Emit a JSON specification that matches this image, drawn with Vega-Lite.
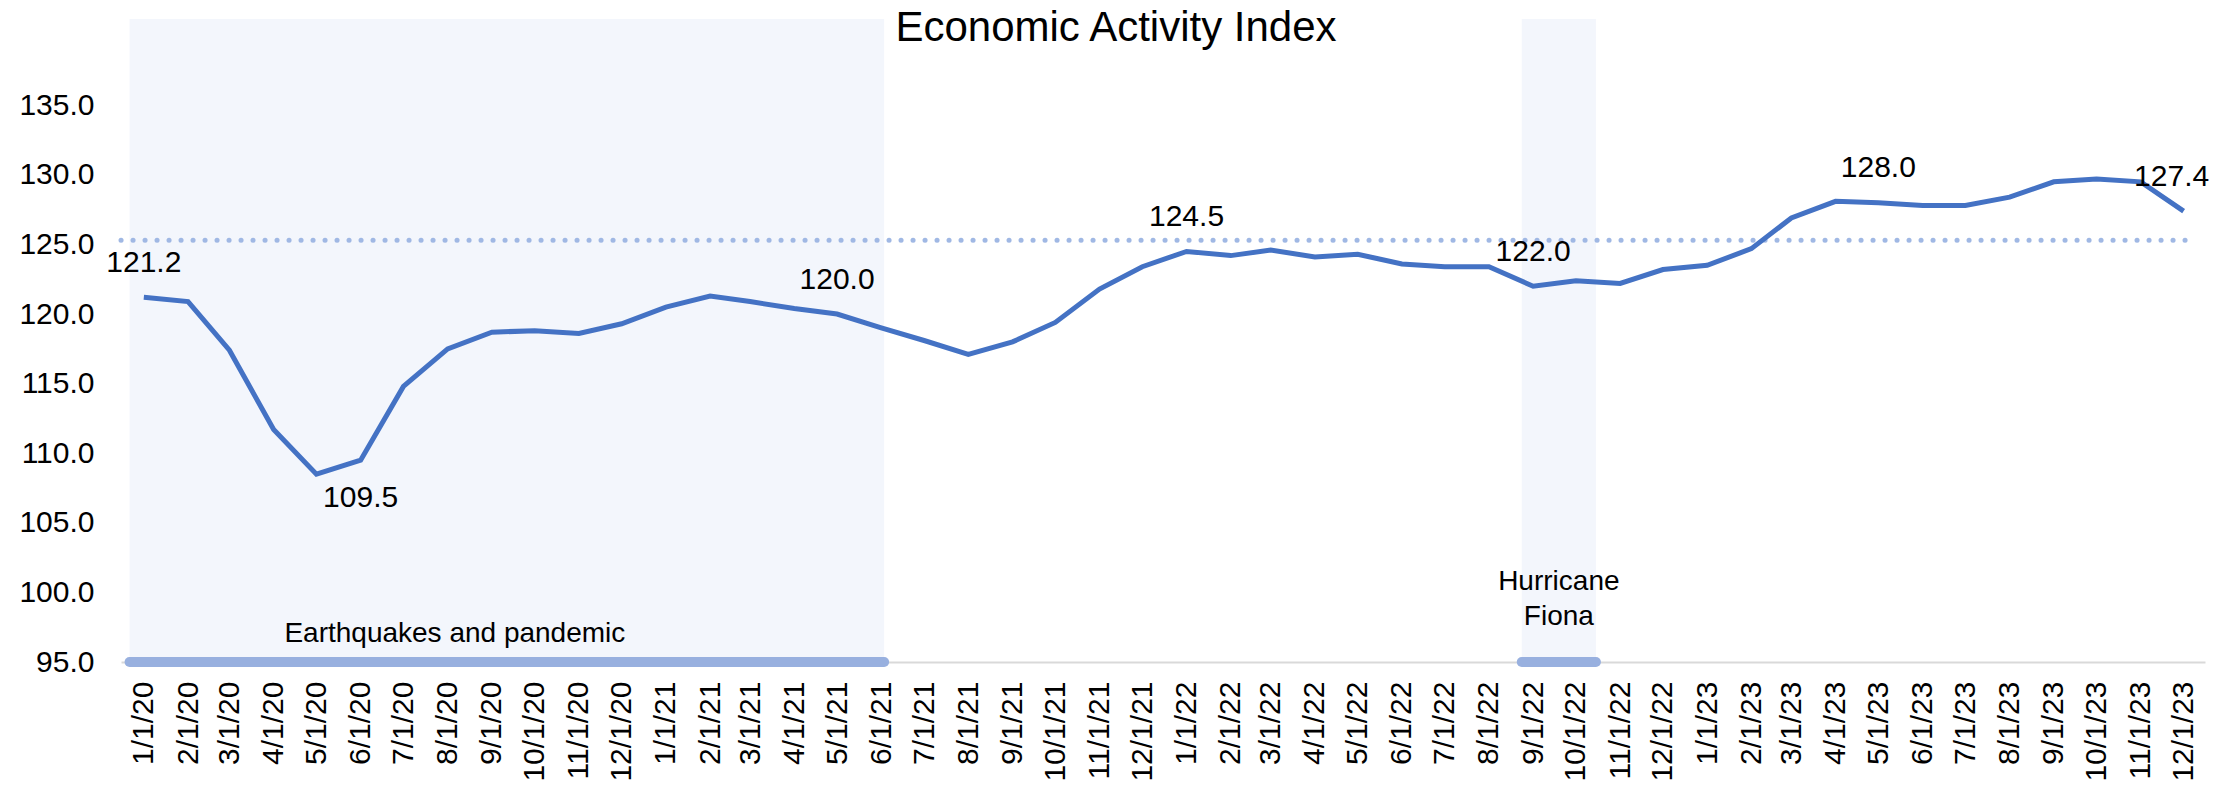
{
  "$schema": "https://vega.github.io/schema/vega-lite/v6.json",
  "autosize": "none",
  "width": 2084,
  "height": 643,
  "padding": {"left": 121, "top": 19, "right": 32, "bottom": 125},
  "title": {"text": "Economic Activity Index", "fontSize": 42, "font": "Liberation Sans", "fontWeight": "normal", "color": "#000000", "anchor": "middle", "frame": "group", "dx": -47, "offset": -31},
  "datasets": {
    "series": [
      {"date": "2020-01-01", "value": 121.2}, {"date": "2020-02-01", "value": 120.9}, {"date": "2020-03-01", "value": 117.4}, {"date": "2020-04-01", "value": 111.7},
      {"date": "2020-05-01", "value": 108.5}, {"date": "2020-06-01", "value": 109.5}, {"date": "2020-07-01", "value": 114.8}, {"date": "2020-08-01", "value": 117.5},
      {"date": "2020-09-01", "value": 118.7}, {"date": "2020-10-01", "value": 118.8}, {"date": "2020-11-01", "value": 118.6}, {"date": "2020-12-01", "value": 119.3},
      {"date": "2021-01-01", "value": 120.5}, {"date": "2021-02-01", "value": 121.3}, {"date": "2021-03-01", "value": 120.9}, {"date": "2021-04-01", "value": 120.4},
      {"date": "2021-05-01", "value": 120.0}, {"date": "2021-06-01", "value": 119.0}, {"date": "2021-07-01", "value": 118.1}, {"date": "2021-08-01", "value": 117.1},
      {"date": "2021-09-01", "value": 118.0}, {"date": "2021-10-01", "value": 119.4}, {"date": "2021-11-01", "value": 121.8}, {"date": "2021-12-01", "value": 123.4},
      {"date": "2022-01-01", "value": 124.5}, {"date": "2022-02-01", "value": 124.2}, {"date": "2022-03-01", "value": 124.6}, {"date": "2022-04-01", "value": 124.1},
      {"date": "2022-05-01", "value": 124.3}, {"date": "2022-06-01", "value": 123.6}, {"date": "2022-07-01", "value": 123.4}, {"date": "2022-08-01", "value": 123.4},
      {"date": "2022-09-01", "value": 122.0}, {"date": "2022-10-01", "value": 122.4}, {"date": "2022-11-01", "value": 122.2}, {"date": "2022-12-01", "value": 123.2},
      {"date": "2023-01-01", "value": 123.5}, {"date": "2023-02-01", "value": 124.7}, {"date": "2023-03-01", "value": 126.9}, {"date": "2023-04-01", "value": 128.1},
      {"date": "2023-05-01", "value": 128.0}, {"date": "2023-06-01", "value": 127.8}, {"date": "2023-07-01", "value": 127.8}, {"date": "2023-08-01", "value": 128.4},
      {"date": "2023-09-01", "value": 129.5}, {"date": "2023-10-01", "value": 129.7}, {"date": "2023-11-01", "value": 129.5}, {"date": "2023-12-01", "value": 127.4}
    ],
    "events": [
      {"start": "2019-12-22", "end": "2021-06-03", "label": "Earthquakes and pandemic"},
      {"start": "2022-08-24", "end": "2022-10-15", "label": "Hurricane Fiona"}
    ],
    "reference": [
      {"level": 125.3, "from": "2019-12-16", "to": "2023-12-08"}
    ]
  },
  "layer": [
    {
      "data": {"name": "events", "format": {"parse": {"start": "date", "end": "date"}}},
      "mark": {"type": "rect", "color": "#f3f6fc"},
      "encoding": {
        "x": {"field": "start", "type": "temporal",
          "scale": {"type": "utc", "domain": [{"year": 2019, "month": 12, "date": 16, "utc": true}, {"year": 2023, "month": 12, "date": 16, "utc": true}]},
          "axis": {"title": null, "tickCount": {"interval": "month", "step": 1}, "format": "%-m/%-d/%y", "labelAngle": 270, "labelAlign": "right", "labelBaseline": "middle", "labelFontSize": 30, "labelFont": "Liberation Sans", "labelColor": "#000000", "labelPadding": 19, "ticks": false, "tickSize": 0, "domainColor": "#d9d9d9", "domainWidth": 2, "grid": false, "labelOverlap": false, "labelFlush": false, "labelBound": false}},
        "x2": {"field": "end"}
      }
    },
    {
      "data": {"name": "reference", "format": {"parse": {"from": "date", "to": "date"}}},
      "mark": {"type": "rule", "color": "#a0b8e4", "strokeWidth": 5, "strokeCap": "round", "strokeDash": [0.1, 11.9]},
      "encoding": {
        "x": {"field": "from", "type": "temporal",
          "scale": {"type": "utc", "domain": [{"year": 2019, "month": 12, "date": 16, "utc": true}, {"year": 2023, "month": 12, "date": 16, "utc": true}]},
          "axis": {"title": null, "tickCount": {"interval": "month", "step": 1}, "format": "%-m/%-d/%y", "labelAngle": 270, "labelAlign": "right", "labelBaseline": "middle", "labelFontSize": 30, "labelFont": "Liberation Sans", "labelColor": "#000000", "labelPadding": 19, "ticks": false, "tickSize": 0, "domainColor": "#d9d9d9", "domainWidth": 2, "grid": false, "labelOverlap": false, "labelFlush": false, "labelBound": false}},
        "x2": {"field": "to"},
        "y": {"field": "level", "type": "quantitative",
          "scale": {"domain": [95, 141.2], "zero": false, "nice": false},
          "axis": {"title": null, "values": [95, 100, 105, 110, 115, 120, 125, 130, 135], "format": ".1f", "labelFontSize": 30, "labelFont": "Liberation Sans", "labelColor": "#000000", "labelPadding": 27, "ticks": false, "tickSize": 0, "domain": false, "grid": false}}
      }
    },
    {
      "data": {"name": "events", "format": {"parse": {"start": "date", "end": "date"}}},
      "mark": {"type": "rule", "color": "#98b0df", "strokeWidth": 10, "strokeCap": "round"},
      "encoding": {
        "x": {"field": "start", "type": "temporal",
          "scale": {"type": "utc", "domain": [{"year": 2019, "month": 12, "date": 16, "utc": true}, {"year": 2023, "month": 12, "date": 16, "utc": true}]},
          "axis": {"title": null, "tickCount": {"interval": "month", "step": 1}, "format": "%-m/%-d/%y", "labelAngle": 270, "labelAlign": "right", "labelBaseline": "middle", "labelFontSize": 30, "labelFont": "Liberation Sans", "labelColor": "#000000", "labelPadding": 19, "ticks": false, "tickSize": 0, "domainColor": "#d9d9d9", "domainWidth": 2, "grid": false, "labelOverlap": false, "labelFlush": false, "labelBound": false}},
        "x2": {"field": "end"},
        "y": {"datum": 95, "type": "quantitative", "scale": {"domain": [95, 141.2], "zero": false, "nice": false}}
      }
    },
    {
      "data": {"name": "series", "format": {"parse": {"date": "date"}}},
      "mark": {"type": "line", "color": "#4472c4", "strokeWidth": 5},
      "encoding": {
        "x": {"field": "date", "type": "temporal",
          "scale": {"type": "utc", "domain": [{"year": 2019, "month": 12, "date": 16, "utc": true}, {"year": 2023, "month": 12, "date": 16, "utc": true}]},
          "axis": {"title": null, "tickCount": {"interval": "month", "step": 1}, "format": "%-m/%-d/%y", "labelAngle": 270, "labelAlign": "right", "labelBaseline": "middle", "labelFontSize": 30, "labelFont": "Liberation Sans", "labelColor": "#000000", "labelPadding": 19, "ticks": false, "tickSize": 0, "domainColor": "#d9d9d9", "domainWidth": 2, "grid": false, "labelOverlap": false, "labelFlush": false, "labelBound": false}},
        "y": {"field": "value", "type": "quantitative", "scale": {"domain": [95, 141.2], "zero": false, "nice": false}}
      }
    },
    {
      "data": {"name": "events", "format": {"parse": {"start": "date", "end": "date"}}},
      "transform": [
        {"filter": "datum.label == 'Earthquakes and pandemic'"},
        {"calculate": "(time(datum.start) + time(datum.end)) / 2", "as": "mid"}
      ],
      "mark": {"type": "text", "font": "Liberation Sans", "fontSize": 28, "color": "#000000", "align": "center", "baseline": "alphabetic", "dx": -52, "dy": -20},
      "encoding": {
        "x": {"field": "mid", "type": "temporal",
          "scale": {"type": "utc", "domain": [{"year": 2019, "month": 12, "date": 16, "utc": true}, {"year": 2023, "month": 12, "date": 16, "utc": true}]}},
        "y": {"datum": 95, "type": "quantitative", "scale": {"domain": [95, 141.2], "zero": false, "nice": false}},
        "text": {"field": "label"}
      }
    },
    {
      "data": {"name": "events", "format": {"parse": {"start": "date", "end": "date"}}},
      "transform": [
        {"filter": "datum.label == 'Hurricane Fiona'"},
        {"calculate": "(time(datum.start) + time(datum.end)) / 2", "as": "mid"}
      ],
      "mark": {"type": "text", "font": "Liberation Sans", "fontSize": 28, "color": "#000000", "align": "center", "baseline": "alphabetic", "lineBreak": " ", "lineHeight": 35, "dy": -72},
      "encoding": {
        "x": {"field": "mid", "type": "temporal",
          "scale": {"type": "utc", "domain": [{"year": 2019, "month": 12, "date": 16, "utc": true}, {"year": 2023, "month": 12, "date": 16, "utc": true}]}},
        "y": {"datum": 95, "type": "quantitative", "scale": {"domain": [95, 141.2], "zero": false, "nice": false}},
        "text": {"field": "label"}
      }
    },
    {
      "data": {"name": "series", "format": {"parse": {"date": "date"}}},
      "transform": [
        {"filter": "indexof([24240, 24256, 24264, 24272, 24280], utcyear(datum.date) * 12 + utcmonth(datum.date)) >= 0"}
      ],
      "mark": {"type": "text", "font": "Liberation Sans", "fontSize": 30, "color": "#000000", "align": "center", "baseline": "alphabetic", "dy": -25.5},
      "encoding": {
        "x": {"field": "date", "type": "temporal",
          "scale": {"type": "utc", "domain": [{"year": 2019, "month": 12, "date": 16, "utc": true}, {"year": 2023, "month": 12, "date": 16, "utc": true}]}},
        "y": {"field": "value", "type": "quantitative", "scale": {"domain": [95, 141.2], "zero": false, "nice": false}},
        "text": {"field": "value", "type": "quantitative", "format": ".1f"}
      }
    },
    {
      "data": {"name": "series", "format": {"parse": {"date": "date"}}},
      "transform": [
        {"filter": "utcyear(datum.date) == 2020 && utcmonth(datum.date) == 5"}
      ],
      "mark": {"type": "text", "font": "Liberation Sans", "fontSize": 30, "color": "#000000", "align": "center", "baseline": "alphabetic", "dy": 47},
      "encoding": {
        "x": {"field": "date", "type": "temporal",
          "scale": {"type": "utc", "domain": [{"year": 2019, "month": 12, "date": 16, "utc": true}, {"year": 2023, "month": 12, "date": 16, "utc": true}]}},
        "y": {"field": "value", "type": "quantitative", "scale": {"domain": [95, 141.2], "zero": false, "nice": false}},
        "text": {"field": "value", "type": "quantitative", "format": ".1f"}
      }
    },
    {
      "data": {"name": "series", "format": {"parse": {"date": "date"}}},
      "transform": [
        {"filter": "utcyear(datum.date) == 2023 && utcmonth(datum.date) == 11"}
      ],
      "mark": {"type": "text", "font": "Liberation Sans", "fontSize": 30, "color": "#000000", "align": "center", "baseline": "alphabetic", "dx": -12, "dy": -25.5},
      "encoding": {
        "x": {"field": "date", "type": "temporal",
          "scale": {"type": "utc", "domain": [{"year": 2019, "month": 12, "date": 16, "utc": true}, {"year": 2023, "month": 12, "date": 16, "utc": true}]}},
        "y": {"field": "value", "type": "quantitative", "scale": {"domain": [95, 141.2], "zero": false, "nice": false}},
        "text": {"field": "value", "type": "quantitative", "format": ".1f"}
      }
    }
  ],
  "config": {"view": {"stroke": null}, "font": "Liberation Sans"}
}
